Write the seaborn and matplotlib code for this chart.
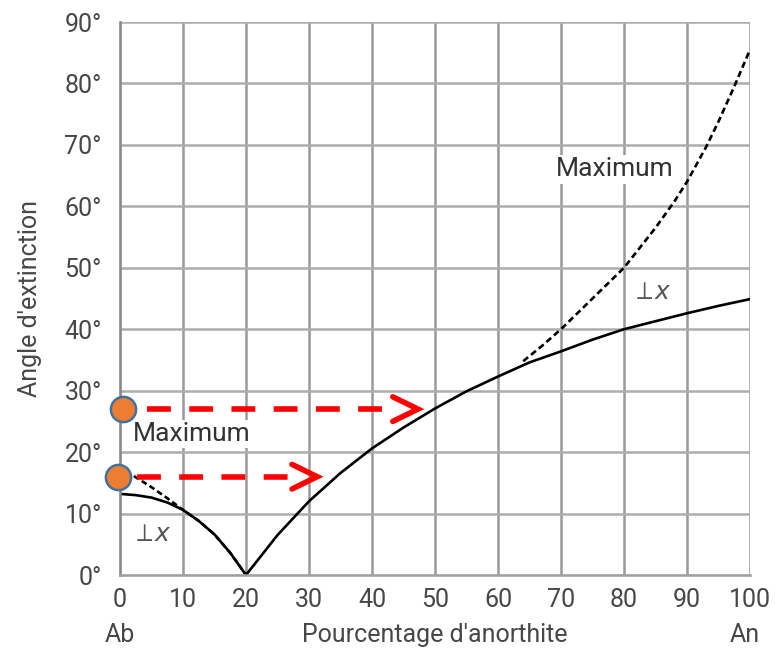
import matplotlib
matplotlib.use("Agg")
import matplotlib.pyplot as plt
import seaborn as sns

# ---------------- data ----------------
x_ticks = [0, 10, 20, 30, 40, 50, 60, 70, 80, 90, 100]
y_ticks = [0, 10, 20, 30, 40, 50, 60, 70, 80, 90]
x_tick_labels = [str(v) for v in x_ticks]
y_tick_labels = [f"{v}°" for v in y_ticks]

# perpendicular to x (solid) - albite side
perp_left_x = [0, 2.5, 5, 7.5, 10, 12.5, 15, 17.5, 20]
perp_left_y = [13.2, 13.0, 12.6, 11.8, 10.6, 8.8, 6.6, 3.6, 0.0]
# maximum (dashed) - albite side
max_left_x = [2.2, 5, 7.5, 10, 12.5, 15, 17.5, 20]
max_left_y = [16.1, 14.3, 12.5, 10.6, 8.8, 6.6, 3.6, 0.0]
# perpendicular to x (solid) - anorthite side
perp_right_x = [20, 25, 30, 35, 40, 45, 50, 55, 60, 65, 70, 75, 80, 85, 90, 95, 100]
perp_right_y = [0.0, 6.5, 12.0, 16.6, 20.6, 24.0, 27.1, 29.9, 32.3, 34.6, 36.4, 38.3, 40.0, 41.3, 42.6, 43.8, 44.9]
# maximum (dashed) - anorthite side
max_right_x = [64, 67, 70, 75, 80, 85, 88, 90, 93, 95, 97.5, 100]
max_right_y = [34.8, 37.3, 40.0, 45.0, 50.0, 56.5, 60.8, 64.0, 69.6, 73.8, 79.5, 85.5]

# orange markers and red arrows
dots_x = [0.5, -0.3]
dots_y = [27.0, 16.0]
arrow_start_x = [4.3, 2.7]
arrow_dash_end_x = [41.7, 26.7]
arrow_tip_x = [47.3, 31.3]
arrow_y = [27.0, 16.0]
arrow_head_dx = [4.0, 4.0]
arrow_head_dy = [2.0, 2.0]

labels_text = ["Maximum", "Maximum"]
labels_x = [11.4, 78.6]
labels_y = [22.9, 66.0]
perp_label_x = [4.9, 84.3]
perp_label_y = [6.7, 46.0]

# ---------------- style ----------------
sns.set_theme(style="white")
plt.rcParams["font.family"] = ["Roboto", "DejaVu Sans"]
plt.rcParams["mathtext.fontset"] = "dejavusans"

text_col = "#474747"
fig = plt.figure(figsize=(7.75, 6.5), dpi=100)
ax = fig.add_axes([0.15484, 0.11538, 0.8129, 0.85077])

ax.set_xlim(0, 100)
ax.set_ylim(0, 90)
ax.set_xticks(x_ticks)
ax.set_yticks(y_ticks)
ax.set_xticklabels(x_tick_labels)
ax.set_yticklabels(y_tick_labels)
ax.tick_params(axis="both", length=0, labelsize=18, labelcolor=text_col)
ax.tick_params(axis="y", pad=13)
ax.tick_params(axis="x", pad=9)

# grid
ax.grid(False)
for v in x_ticks[1:]:
    ax.axvline(v, color="#999999", lw=1.8, zorder=0.5)
for v in y_ticks[1:]:
    ax.axhline(v, color="#adadad", lw=1.8, zorder=0.5)
for side in ["top", "right"]:
    ax.spines[side].set_visible(False)
ax.spines["left"].set_color("#888888")
ax.spines["left"].set_linewidth(1.9)
ax.spines["bottom"].set_color("#a0a0a0")
ax.spines["bottom"].set_linewidth(1.9)

# curves
lw_curve = 1.9
sns.lineplot(x=perp_left_x, y=perp_left_y, ax=ax, color="black", lw=lw_curve, sort=False)
sns.lineplot(x=perp_right_x, y=perp_right_y, ax=ax, color="black", lw=lw_curve, sort=False)
sns.lineplot(x=max_left_x, y=max_left_y, ax=ax, color="black", lw=lw_curve, sort=False)
ax.lines[-1].set_dashes((2.2, 1.3))
sns.lineplot(x=max_right_x, y=max_right_y, ax=ax, color="black", lw=lw_curve, sort=False)
ax.lines[-1].set_dashes((2.4, 1.4))

# red arrows
for xs, xd, xt, y, dx, dy in zip(arrow_start_x, arrow_dash_end_x, arrow_tip_x,
                                 arrow_y, arrow_head_dx, arrow_head_dy):
    ax.plot([xs, xd], [y, y], color="#ff0000", lw=4.0,
            dashes=(4.3, 3.3), solid_capstyle="butt", dash_capstyle="butt", zorder=4)
    ax.plot([xt - dx, xt, xt - dx], [y + dy, y, y - dy], color="#ff0000",
            lw=4.0, solid_joinstyle="miter", solid_capstyle="round", zorder=4)

# orange dots
sns.scatterplot(x=dots_x, y=dots_y, ax=ax, s=330, color="#ED7D31",
                edgecolor="#41719C", linewidth=1.8, zorder=5, clip_on=False)

# labels
for t, x, y in zip(labels_text, labels_x, labels_y):
    ax.text(x, y, t, fontsize=19, color="#333333", ha="center", va="center",
            bbox=dict(facecolor="white", edgecolor="none", pad=1.5), zorder=3)
for x, y in zip(perp_label_x, perp_label_y):
    ax.text(x, y, r"$\perp\!x$", fontsize=18, color="#555555",
            ha="center", va="center", zorder=3)

ax.set_xlabel("Pourcentage d'anorthite", fontsize=18, color=text_col, labelpad=8)
ax.set_ylabel("Angle d'extinction", fontsize=18, color=text_col, labelpad=16)
ax.text(0, -0.108, "Ab", transform=ax.get_xaxis_transform(), fontsize=18,
        color=text_col, ha="center", va="center")
ax.text(99.2, -0.108, "An", transform=ax.get_xaxis_transform(), fontsize=18,
        color=text_col, ha="center", va="center")

fig.savefig("out.png", dpi=100)
